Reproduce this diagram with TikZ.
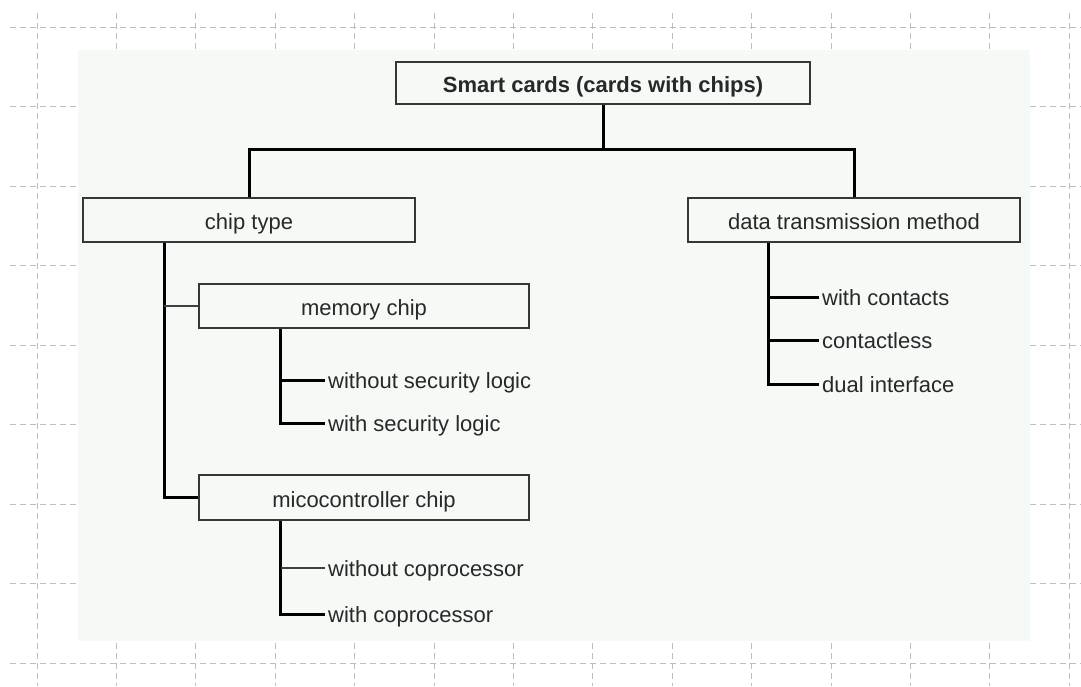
\documentclass[tikz,border=0pt]{standalone}
\usepackage{fontspec}
\setmainfont{Liberation Sans}
\definecolor{bgmint}{RGB}{246,250,247}
\definecolor{boxgray}{RGB}{55,55,55}
\definecolor{txtgray}{RGB}{40,40,40}
\definecolor{gridgray}{RGB}{190,190,190}
\begin{document}
\begin{tikzpicture}[x = 1pt, y = -1pt,
    box/.style = {draw = boxgray, line width = 2pt, fill = bgmint, inner sep = 0pt, text = txtgray, text height = 19pt, text depth = 0pt, font = \fontsize{22}{26}\selectfont},
    leaf/.style = {anchor = west, inner sep = 3pt, text = txtgray, text height = 19pt, text depth = 3pt, font = \fontsize{22}{26}\selectfont},
    conn/.style = {line width = 3pt, black},
    thinconn/.style = {line width = 1.5pt, black!75},
    gridline/.style = {gridgray, line width = 0.9pt, dash pattern = on 6pt off 4pt}]
    \useasboundingbox (0,0) rectangle (1081,686);
    \foreach \gy in {0,...,8} \draw[gridline] (10,{27+79.5*\gy}) -- (1081,{27+79.5*\gy});
    \foreach \gx in {0,...,13} \draw[gridline] ({37+79.4*\gx},13) -- ({37+79.4*\gx},686);
    \fill[bgmint] (78,50) rectangle (1030,641);

    \node[box, minimum width = 414, minimum height = 42] (root) at (603,83) {\textbf{Smart cards (cards with chips)}};
    \node[box, minimum width = 332, minimum height = 44] (ctype) at (249,220) {chip type};
    \node[box, minimum width = 332, minimum height = 44] (dtm) at (854,220) {data transmission method};
    \node[box, minimum width = 330, minimum height = 44] (mem) at (364,306) {memory chip};
    \node[box, minimum width = 330, minimum height = 45] (micro) at (364,497.5) {micocontroller chip};

    \node[leaf] (wosec) at (325,380) {without security logic};
    \node[leaf] (wsec) at (325,423) {with security logic};
    \node[leaf] (wocop) at (325,568) {without coprocessor};
    \node[leaf] (wcop) at (325,614) {with coprocessor};
    \node[leaf] (contacts) at (819,297) {with contacts};
    \node[leaf] (cless) at (819,340) {contactless};
    \node[leaf] (dual) at (819,384) {dual interface};

    \draw[conn]
        (root.south) -- ++(0,44) -| (ctype.north)
        (root.south) -- ++(0,44) -| (dtm.north)
        (ctype.south west) ++(82,0) |- (micro.west)
        (mem.south west) ++(82,0) |- (wosec.west)
        (mem.south west) ++(82,0) |- (wsec.west)
        (micro.south west) ++(82,0) |- (wcop.west)
        (dtm.south west) ++(81,0) |- (contacts.west)
        (dtm.south west) ++(81,0) |- (cless.west)
        (dtm.south west) ++(81,0) |- (dual.west)
    ;
    \draw[thinconn]
        (mem.west) -- ++(-34,0)
        (wocop.west) -- ++(-44,0)
    ;
\end{tikzpicture}
\end{document}
